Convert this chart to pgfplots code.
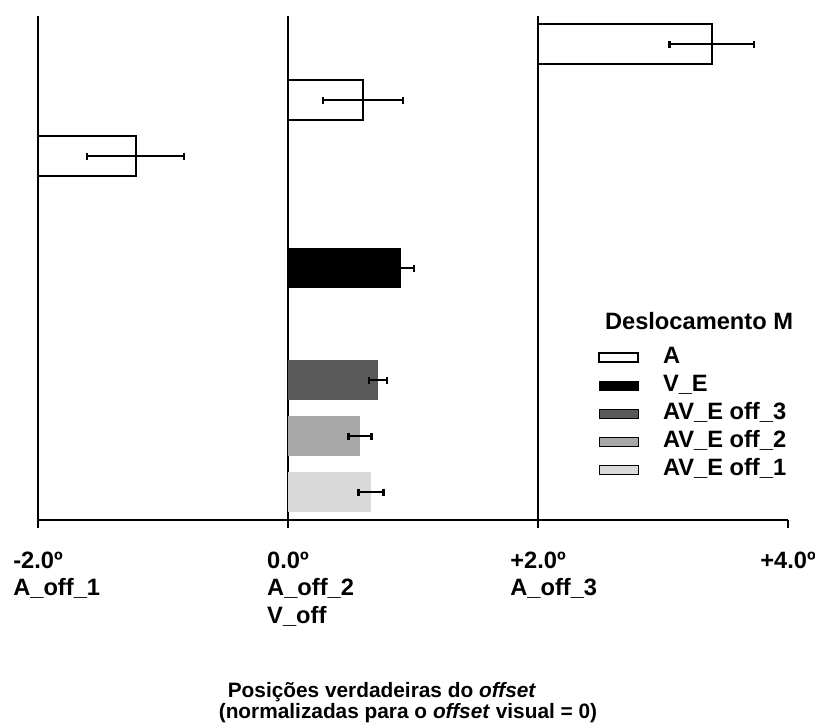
\documentclass[border=0pt]{standalone}
\usepackage{fontspec}
\setmainfont{Liberation Sans}
\usepackage{calc}
\usepackage{pgfplots}
\pgfplotsset{compat=1.18}

\definecolor{gdark}{HTML}{595959}
\definecolor{gmid}{HTML}{A8A8A8}
\definecolor{glight}{HTML}{D9D9D9}

\newcommand{\lf}{\fontsize{14.2}{16.5}\selectfont\bfseries}
% first line centred under the tick, further lines flush left with it
\newcommand{\tklab}[2]{\makebox[\widthof{#1}][l]{\begin{tabular}[t]{@{}l@{}}#1\\#2\end{tabular}}}

\begin{document}
\begin{tikzpicture}
\begin{axis}[
  name=ax,
  x=75pt, y=33.6pt,
  xmin=-2, xmax=4, ymin=0, ymax=9,
  clip=false,
  axis x line*=bottom, axis y line*=left,
  axis line style={line width=1.2pt, -},
  xtick={-2,0,2,4}, ytick=\empty,
  xticklabels={{\tklab{-2.0º}{A\_off\_1}},{\tklab{0.0º}{A\_off\_2\\V\_off}},{\tklab{+2.0º}{A\_off\_3}},{\tklab{+4.0º}{}}},
  tick align=outside, major tick length=4.8pt,
  tick style={line width=1.2pt, black},
  xticklabel style={font=\lf, anchor=base, inner sep=0pt, yshift=-24pt},
  xlabel={\hspace*{5.4pt}Posições verdadeiras do \textit{offset}\\(normalizadas para o \textit{offset} visual = 0)},
  xlabel style={at={(axis cs:0.96,0)}, anchor=north, yshift=-97.2pt, inner sep=0pt,
    align=left, font=\fontsize{12.5}{12.5}\selectfont\bfseries},
  legend image code/.code={\draw[#1] (0pt,-2.7pt) rectangle (23.4pt,2.7pt);},
  legend cell align=left,
  legend style={at={(axis cs:2.48,3.646)}, anchor=north west, draw=none, fill=none,
    font=\lf, row sep=0.8pt, inner sep=0pt,
    nodes={inner sep=1pt, text height=10.5pt, text depth=3.5pt},
    /tikz/every odd column/.append style={column sep=13.2pt}},
]
\addlegendimage{empty legend}
\addlegendentry{\hspace*{-34.8pt}\raisebox{3.6pt}{Deslocamento M}}

% reference lines at 0 and +2
\addplot[line width=1.2pt, forget plot] coordinates {(0,0) (0,9)};
\addplot[line width=1.2pt, forget plot] coordinates {(2,0) (2,9)};

% A bars, from each offset
\addplot[fill=white, draw=black, line width=1.2pt] coordinates {(-2,6.15) (-1.22,6.15) (-1.22,6.85) (-2,6.85)} -- cycle;
\addlegendentry{A}
\addplot[fill=white, draw=black, line width=1.2pt, forget plot] coordinates {(0,7.15) (0.60,7.15) (0.60,7.85) (0,7.85)} -- cycle;
\addplot[fill=white, draw=black, line width=1.2pt, forget plot] coordinates {(2,8.15) (3.39,8.15) (3.39,8.85) (2,8.85)} -- cycle;

% V_E and AV_E bars
\addplot[fill=black, draw=none] coordinates {(0,4.15) (0.90,4.15) (0.90,4.85) (0,4.85)} -- cycle;
\addlegendentry{V\_E}
\addplot[fill=gdark, draw=none] coordinates {(0,2.15) (0.72,2.15) (0.72,2.85) (0,2.85)} -- cycle;
\addlegendentry{AV\_E off\_3}
\addplot[fill=gmid, draw=none] coordinates {(0,1.15) (0.577,1.15) (0.577,1.85) (0,1.85)} -- cycle;
\addlegendentry{AV\_E off\_2}
\addplot[fill=glight, draw=none] coordinates {(0,0.15) (0.664,0.15) (0.664,0.85) (0,0.85)} -- cycle;
\addlegendentry{AV\_E off\_1}

% error bars
\addplot[draw=none, mark=none, forget plot,
  error bars/.cd, x dir=both, x explicit,
  error bar style={line width=1.2pt, draw=black},
  error mark options={rotate=90, mark size=2.1pt, line width=1.4pt, draw=black}]
  coordinates {
  (-1.22,6.5) +- (0.39,0)
  (0.60,7.5) +- (0.32,0)
  (3.39,8.5) +- (0.338,0)
  (0.90,4.5) +- (0.11,0)
  (0.72,2.5) +- (0.073,0)
  (0.577,1.5) +- (0.092,0)
  (0.664,0.5) +- (0.099,0)
  };
\end{axis}
\pgfresetboundingbox
\path[use as bounding box] ([xshift=-22.8pt,yshift=-122.4pt]ax.south west) rectangle ([xshift=466.2pt,yshift=312pt]ax.south west);
\end{tikzpicture}
\end{document}
